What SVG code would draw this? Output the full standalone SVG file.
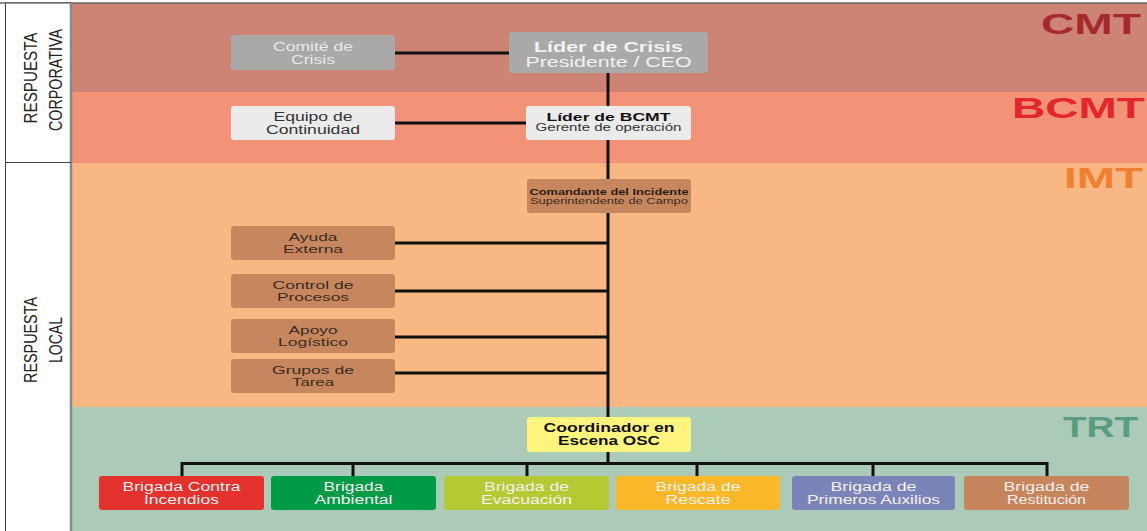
<svg xmlns="http://www.w3.org/2000/svg" width="1147" height="531" viewBox="0 0 1147 531">
<style>
text{font-family:"Liberation Sans",Arial,sans-serif;text-anchor:middle}
.band-label{font-weight:bold;font-size:29px;text-anchor:end}
.side{font-size:19px;fill:#222}
.conn{stroke:#111;stroke-width:3;fill:none}
.box{rx:3;ry:3}
.grey{fill:#A9A9A9}
.light{fill:#EBEBEB}
.brown{fill:#C7875E}
.t12{font-size:12px}
.brig{font-size:12px;fill:#F6F0EE}
</style>
<g id="bands">
<rect x="72" y="3" width="1075" height="89" fill="#CE8474"/>
<rect x="72" y="92" width="1075" height="71" fill="#F29276"/>
<rect x="72" y="163" width="1075" height="244" fill="#F9B883"/>
<rect x="72" y="407" width="1075" height="124" fill="#ABCAB8"/>
<line x1="0" y1="3" x2="1147" y2="3" stroke="#666" stroke-width="1.5"/>
<text class="band-label" x="1141" y="34" fill="#A52A30" textLength="100" lengthAdjust="spacingAndGlyphs">CMT</text>
<text class="band-label" x="1145" y="118" fill="#E3262B" textLength="133" lengthAdjust="spacingAndGlyphs">BCMT</text>
<text class="band-label" x="1143" y="188" fill="#F08030" textLength="79" lengthAdjust="spacingAndGlyphs">IMT</text>
<text class="band-label" x="1138" y="437" fill="#5A9C7E" textLength="75" lengthAdjust="spacingAndGlyphs">TRT</text>
</g>
<g id="side-panel">
<rect x="5.5" y="3" width="65.5" height="530" fill="#FFFFFF" stroke="#444" stroke-width="1"/>
<line x1="71" y1="3" x2="71" y2="531" stroke="#888" stroke-width="2.5"/>
<line x1="5" y1="162.5" x2="71" y2="162.5" stroke="#444" stroke-width="1"/>
<text class="side" transform="translate(37,78) rotate(-90)" textLength="91" lengthAdjust="spacingAndGlyphs">RESPUESTA</text>
<text class="side" transform="translate(61.5,80) rotate(-90)" textLength="102" lengthAdjust="spacingAndGlyphs">CORPORATIVA</text>
<text class="side" transform="translate(37,340) rotate(-90)" textLength="86" lengthAdjust="spacingAndGlyphs">RESPUESTA</text>
<text class="side" transform="translate(61.5,340) rotate(-90)" textLength="46" lengthAdjust="spacingAndGlyphs">LOCAL</text>
</g>
<g id="connectors">
<line class="conn" x1="608" y1="73" x2="608" y2="463"/>
<line class="conn" x1="395" y1="53" x2="509" y2="53"/>
<line class="conn" x1="395" y1="123" x2="526" y2="123"/>
<line class="conn" x1="395" y1="243" x2="608" y2="243"/>
<line class="conn" x1="395" y1="291" x2="608" y2="291"/>
<line class="conn" x1="395" y1="337" x2="608" y2="337"/>
<line class="conn" x1="395" y1="373" x2="608" y2="373"/>
<polyline class="conn" points="182,476 182,463.5 1047,463.5 1047,476"/>
<line class="conn" x1="353" y1="463" x2="353" y2="476"/>
<line class="conn" x1="527" y1="463" x2="527" y2="476"/>
<line class="conn" x1="697" y1="463" x2="697" y2="476"/>
<line class="conn" x1="873" y1="463" x2="873" y2="476"/>
</g>
<g id="comite-crisis">
<rect class="box grey" x="231" y="35" width="164" height="35"/>
<text class="t12" x="313" y="51" fill="#E8E8E8" textLength="80" lengthAdjust="spacingAndGlyphs">Comité de</text>
<text class="t12" x="313" y="64" fill="#E8E8E8" textLength="44" lengthAdjust="spacingAndGlyphs">Crisis</text>
</g>
<g id="lider-crisis">
<rect class="box grey" x="509" y="32" width="199" height="41"/>
<text x="608.5" y="51.5" font-size="15.5" font-weight="bold" fill="#F2F2F2" textLength="149" lengthAdjust="spacingAndGlyphs">Líder de Crisis</text>
<text x="608.5" y="67" font-size="15.5" fill="#F2F2F2" textLength="166" lengthAdjust="spacingAndGlyphs">Presidente / CEO</text>
</g>
<g id="equipo-continuidad">
<rect class="box light" x="231" y="106" width="164" height="34"/>
<text class="t12" x="313" y="121" fill="#333" textLength="79" lengthAdjust="spacingAndGlyphs">Equipo de</text>
<text class="t12" x="313" y="133.5" fill="#333" textLength="94" lengthAdjust="spacingAndGlyphs">Continuidad</text>
</g>
<g id="lider-bcmt">
<rect class="box light" x="526" y="106" width="165" height="34"/>
<text x="608.5" y="121" font-size="11.5" font-weight="bold" fill="#111" textLength="124" lengthAdjust="spacingAndGlyphs">Líder de BCMT</text>
<text x="608.5" y="131" font-size="10.5" fill="#333" textLength="146" lengthAdjust="spacingAndGlyphs">Gerente de operación</text>
</g>
<g id="comandante">
<rect class="box brown" x="527" y="179" width="164" height="34"/>
<text x="609" y="195" font-size="9.5" font-weight="bold" fill="#2A1A10" textLength="159" lengthAdjust="spacingAndGlyphs">Comandante del Incidente</text>
<text x="609" y="204" font-size="9.5" fill="#3A2A20" textLength="158" lengthAdjust="spacingAndGlyphs">Superintendente de Campo</text>
</g>
<g id="ayuda-externa">
<rect class="box brown" x="231" y="226" width="164" height="34"/>
<text x="313" y="241" font-size="11.5" fill="#3B2B20" textLength="49" lengthAdjust="spacingAndGlyphs">Ayuda</text>
<text x="313" y="253" font-size="11.5" fill="#3B2B20" textLength="60" lengthAdjust="spacingAndGlyphs">Externa</text>
</g>
<g id="control-procesos">
<rect class="box brown" x="231" y="274" width="164" height="34"/>
<text x="313" y="289" font-size="11.5" fill="#3B2B20" textLength="81" lengthAdjust="spacingAndGlyphs">Control de</text>
<text x="313" y="301" font-size="11.5" fill="#3B2B20" textLength="72" lengthAdjust="spacingAndGlyphs">Procesos</text>
</g>
<g id="apoyo-logistico">
<rect class="box brown" x="231" y="319" width="164" height="34"/>
<text x="313" y="334" font-size="11.5" fill="#3B2B20" textLength="49" lengthAdjust="spacingAndGlyphs">Apoyo</text>
<text x="313" y="346" font-size="11.5" fill="#3B2B20" textLength="70" lengthAdjust="spacingAndGlyphs">Logístico</text>
</g>
<g id="grupos-tarea">
<rect class="box brown" x="231" y="359" width="164" height="34"/>
<text x="313" y="374" font-size="11.5" fill="#3B2B20" textLength="82" lengthAdjust="spacingAndGlyphs">Grupos de</text>
<text x="313" y="386" font-size="11.5" fill="#3B2B20" textLength="42" lengthAdjust="spacingAndGlyphs">Tarea</text>
</g>
<g id="coordinador">
<rect class="box" x="527" y="417" width="164" height="35" fill="#FFF47E"/>
<text x="609" y="432" font-size="12.5" font-weight="bold" fill="#111" textLength="131" lengthAdjust="spacingAndGlyphs">Coordinador en</text>
<text x="609" y="445" font-size="12.5" font-weight="bold" fill="#111" textLength="102" lengthAdjust="spacingAndGlyphs">Escena OSC</text>
</g>
<g id="brigada-incendios">
<rect class="box" x="99" y="476" width="165" height="34" fill="#E3312D"/>
<text class="brig" x="181.5" y="491" textLength="118" lengthAdjust="spacingAndGlyphs">Brigada Contra</text>
<text class="brig" x="181.5" y="503.5" textLength="75" lengthAdjust="spacingAndGlyphs">Incendios</text>
</g>
<g id="brigada-ambiental">
<rect class="box" x="271" y="476" width="165" height="34" fill="#019A47"/>
<text class="brig" x="353.5" y="491" textLength="60" lengthAdjust="spacingAndGlyphs">Brigada</text>
<text class="brig" x="353.5" y="503.5" textLength="78" lengthAdjust="spacingAndGlyphs">Ambiental</text>
</g>
<g id="brigada-evacuacion">
<rect class="box" x="444" y="476" width="165" height="34" fill="#B5C934"/>
<text class="brig" x="526.5" y="491" textLength="85" lengthAdjust="spacingAndGlyphs">Brigada de</text>
<text class="brig" x="526.5" y="503.5" textLength="91" lengthAdjust="spacingAndGlyphs">Evacuación</text>
</g>
<g id="brigada-rescate">
<rect class="box" x="616" y="476" width="164" height="34" fill="#FBB829"/>
<text class="brig" x="698" y="491" textLength="85" lengthAdjust="spacingAndGlyphs">Brigada de</text>
<text class="brig" x="698" y="503.5" textLength="65" lengthAdjust="spacingAndGlyphs">Rescate</text>
</g>
<g id="brigada-primeros-auxilios">
<rect class="box" x="792" y="476" width="163" height="34" fill="#7B84B8"/>
<text class="brig" x="873.5" y="491" textLength="86" lengthAdjust="spacingAndGlyphs">Brigada de</text>
<text class="brig" x="873.5" y="503.5" textLength="133" lengthAdjust="spacingAndGlyphs">Primeros Auxilios</text>
</g>
<g id="brigada-restitucion">
<rect class="box" x="964" y="476" width="165" height="34" fill="#C7855D"/>
<text class="brig" x="1046.5" y="491" textLength="86" lengthAdjust="spacingAndGlyphs">Brigada de</text>
<text class="brig" x="1046.5" y="503.5" textLength="79" lengthAdjust="spacingAndGlyphs">Restitución</text>
</g>
</svg>
